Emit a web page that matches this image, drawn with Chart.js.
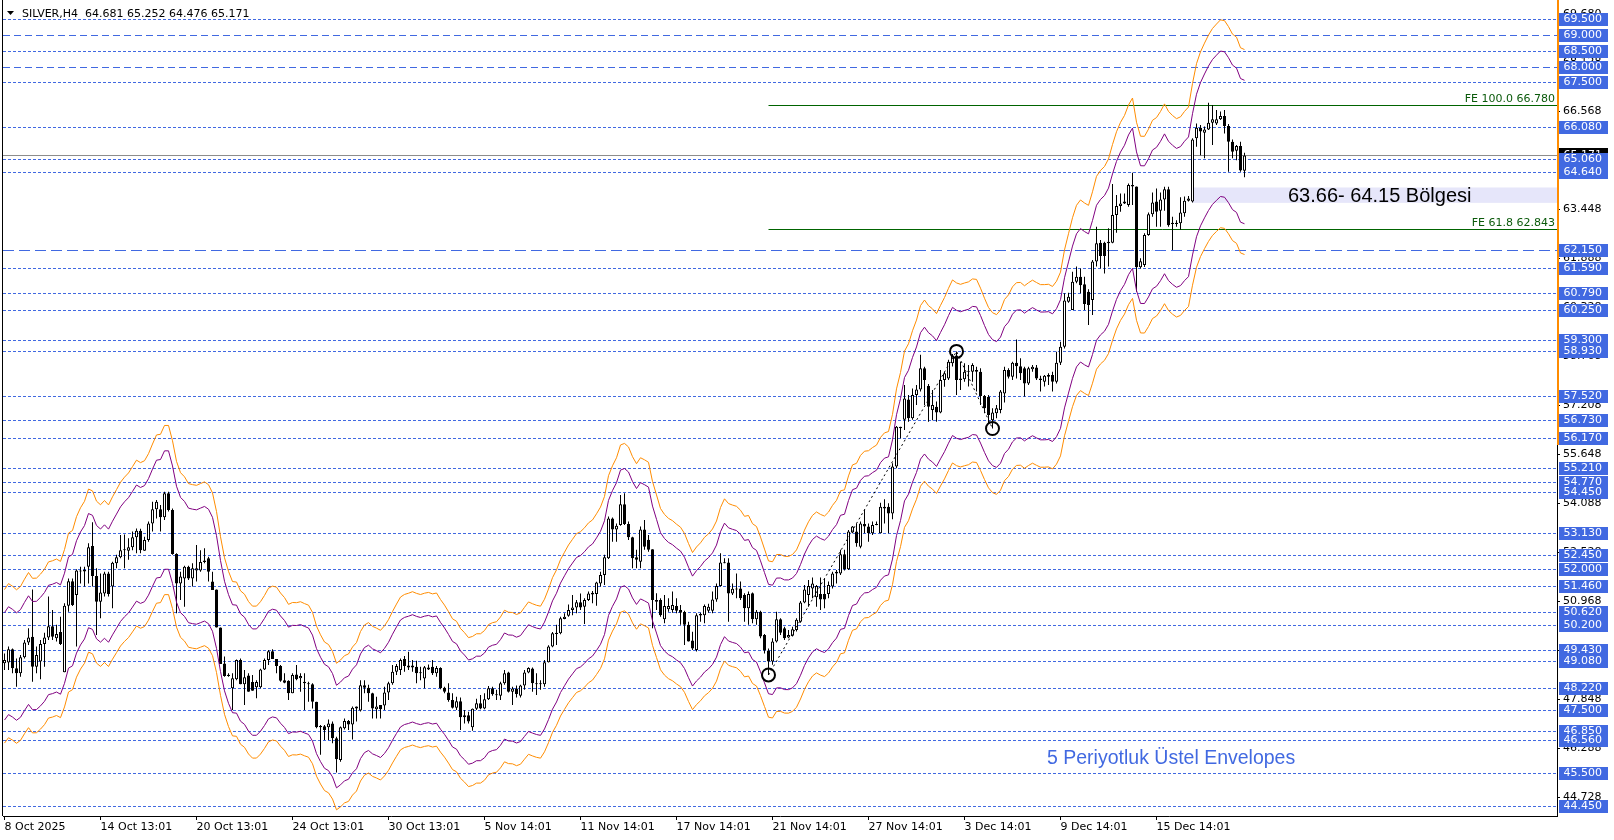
<!DOCTYPE html>
<html>
<head>
<meta charset="utf-8">
<title>SILVER,H4</title>
<script src="https://cdn.jsdelivr.net/npm/chart.js@4.4.1/dist/chart.umd.min.js"></script>
<style>
  html, body { margin: 0; padding: 0; background: #ffffff; }
  #wrap { width: 1614px; height: 840px; }
</style>
</head>
<body>
<div id="wrap"><canvas id="graphic" width="1614" height="840"></canvas></div>
<script>
// SILVER H4 bars, 8 Oct 2025 13:00 -> 18 Dec 2025
const opens = [
  49.00, 49.02, 49.44, 48.84, 48.68, 49.19, 49.66, 49.84, 48.89, 49.05,
  49.61, 49.82, 50.18, 49.79, 49.99, 48.71, 50.83, 51.61, 51.17, 51.95,
  51.92, 52.07, 52.73, 51.78, 50.96, 51.22, 51.86, 51.44, 52.18, 52.37,
  52.60, 52.58, 52.69, 53.01, 53.22, 52.58, 52.92, 53.45, 53.90, 53.90,
  53.65, 54.41, 53.88, 52.48, 51.54, 51.70, 52.07, 51.70, 51.95, 51.95,
  52.22, 52.34, 51.60, 51.35, 50.14, 48.99, 48.59, 48.20, 48.49, 49.10,
  48.33, 48.61, 48.40, 48.23, 48.23, 48.80, 49.10, 49.38, 49.13, 48.91,
  48.46, 48.44, 48.04, 48.64, 48.52, 48.41, 48.36, 48.33, 47.77, 46.96,
  46.99, 46.96, 47.08, 46.61, 45.92, 46.93, 47.16, 47.05, 47.62, 47.49,
  48.30, 48.22, 48.04, 47.53, 47.67, 47.65, 48.07, 48.36, 48.73, 48.78,
  49.13, 48.93, 48.86, 48.89, 48.70, 48.51, 48.80, 48.89, 48.68, 48.85,
  48.22, 48.07, 47.83, 47.58, 47.79, 47.28, 47.34, 46.96, 47.55, 47.72,
  47.56, 47.85, 48.20, 48.01, 47.96, 48.36, 48.70, 48.09, 48.19, 47.96,
  48.29, 48.70, 48.83, 48.36, 48.33, 48.33, 49.03, 49.53, 49.93, 49.95,
  50.41, 50.51, 50.69, 50.77, 50.94, 50.80, 51.01, 51.24, 51.20, 51.54,
  51.81, 52.34, 53.61, 53.26, 53.40, 54.06, 53.43, 53.01, 52.37, 52.23,
  53.26, 52.93, 52.63, 51.01, 51.01, 50.40, 50.72, 50.69, 50.82, 50.69,
  50.63, 50.22, 49.72, 49.42, 50.52, 50.53, 50.67, 50.67, 51.03, 51.46,
  52.21, 52.21, 51.22, 51.38, 51.38, 51.17, 50.75, 51.23, 50.40, 50.64,
  49.90, 49.40, 49.05, 49.69, 50.40, 50.11, 49.82, 49.87, 50.06, 50.32,
  50.93, 51.17, 51.38, 51.10, 51.20, 51.20, 51.20, 51.44, 51.86, 51.86,
  52.47, 51.99, 53.16, 53.19, 52.71, 53.43, 53.35, 53.14, 53.40, 53.14,
  53.98, 53.98, 53.77, 55.26, 56.53, 56.75, 57.40, 56.80, 57.54, 57.72,
  58.39, 57.83, 57.06, 57.17, 56.98, 58.02, 58.07, 58.55, 58.80, 58.02,
  58.04, 58.28, 58.28, 58.34, 58.28, 57.51, 57.48, 56.74, 56.96, 57.06,
  57.59, 58.34, 58.12, 58.57, 58.46, 58.39, 57.91, 58.36, 58.42, 58.07,
  57.96, 58.12, 58.18, 57.96, 58.57, 59.08, 60.51, 60.25, 61.15, 61.31,
  61.07, 60.83, 60.57, 61.79, 62.39, 62.39, 62.37, 62.39, 63.27, 63.56,
  63.64, 63.59, 64.18, 64.18, 61.61, 61.68, 62.64, 63.30, 63.70, 63.41,
  63.77, 64.09, 62.99, 63.03, 63.01, 63.33, 63.73, 63.70, 65.72, 66.05,
  65.89, 66.00, 66.21, 66.19, 66.32, 66.43, 66.11, 65.61, 65.32, 65.47,
  64.681
];
const highs = [
  49.31, 49.53, 49.47, 49.15, 49.26, 49.74, 50.11, 51.35, 49.53, 49.74,
  49.97, 51.12, 50.69, 50.22, 50.48, 50.91, 51.70, 51.70, 51.99, 52.07,
  52.07, 52.82, 53.49, 52.02, 51.86, 51.91, 51.91, 52.23, 52.45, 53.08,
  53.10, 52.98, 53.19, 53.29, 53.28, 53.03, 53.51, 54.14, 54.20, 54.04,
  54.46, 54.46, 53.93, 52.50, 51.91, 52.10, 52.10, 52.18, 52.76, 52.60,
  52.66, 52.39, 51.91, 51.35, 50.14, 49.21, 48.68, 48.68, 49.12, 49.15,
  48.78, 48.68, 48.62, 48.46, 48.82, 49.15, 49.42, 49.44, 49.13, 48.94,
  48.68, 48.46, 48.68, 48.94, 48.68, 48.68, 48.41, 48.36, 47.77, 47.03,
  47.03, 47.21, 47.14, 46.66, 46.98, 47.24, 47.19, 47.62, 47.62, 48.46,
  48.46, 48.31, 48.06, 47.93, 47.67, 48.25, 48.41, 48.94, 48.97, 49.15,
  49.23, 49.36, 49.10, 49.08, 48.89, 48.91, 48.96, 49.10, 48.91, 48.87,
  48.25, 48.36, 48.04, 47.93, 47.91, 47.51, 47.45, 47.56, 47.87, 47.99,
  48.04, 48.27, 48.25, 48.15, 48.41, 48.78, 48.73, 48.25, 48.29, 48.31,
  48.78, 48.87, 48.86, 48.68, 48.46, 49.10, 49.57, 49.99, 50.22, 50.48,
  50.59, 50.87, 51.17, 51.01, 51.22, 51.07, 51.28, 51.30, 51.59, 51.91,
  52.45, 53.67, 53.64, 53.45, 54.36, 54.41, 53.51, 53.03, 52.61, 53.35,
  53.56, 53.08, 52.63, 51.23, 51.07, 51.17, 51.07, 51.28, 51.07, 50.85,
  50.67, 50.32, 50.00, 50.59, 50.61, 50.87, 50.89, 51.28, 51.54, 52.50,
  52.34, 52.34, 51.54, 51.86, 51.60, 51.23, 51.28, 51.25, 50.69, 50.67,
  49.93, 49.47, 49.79, 50.64, 50.43, 50.16, 50.06, 50.16, 50.43, 50.98,
  51.49, 51.65, 51.73, 51.49, 51.73, 51.70, 51.60, 51.91, 51.97, 52.61,
  52.61, 53.24, 53.37, 53.45, 53.51, 53.88, 53.45, 53.51, 53.51, 54.11,
  54.22, 54.09, 55.37, 56.55, 56.53, 57.86, 57.54, 57.75, 57.86, 58.82,
  58.44, 57.89, 57.70, 57.33, 58.34, 58.28, 58.66, 58.85, 58.93, 58.60,
  58.55, 58.50, 58.55, 58.44, 58.39, 57.54, 57.54, 57.12, 57.22, 57.70,
  58.44, 58.39, 58.60, 59.31, 58.71, 58.44, 58.44, 58.50, 58.50, 58.15,
  58.18, 58.23, 58.28, 58.92, 59.24, 60.78, 60.80, 61.47, 61.63, 61.57,
  61.31, 60.91, 61.84, 62.90, 62.48, 62.42, 62.85, 64.26, 63.91, 63.96,
  63.96, 64.28, 64.62, 64.18, 61.90, 62.69, 63.35, 63.99, 64.12, 63.99,
  64.17, 64.17, 63.22, 63.11, 63.84, 63.86, 63.88, 65.72, 66.19, 66.14,
  66.09, 66.85, 66.78, 66.62, 66.57, 66.62, 66.17, 65.68, 65.50, 65.61,
  65.252
];
const lows = [
  48.78, 48.78, 48.68, 48.25, 48.57, 49.15, 49.58, 48.41, 48.68, 48.49,
  48.89, 49.74, 49.74, 49.69, 49.58, 48.71, 50.64, 50.82, 49.53, 51.54,
  51.44, 51.54, 51.44, 49.90, 50.43, 51.12, 51.12, 50.75, 52.02, 52.34,
  52.02, 52.29, 52.60, 52.50, 52.50, 52.58, 52.87, 53.19, 53.61, 53.19,
  53.56, 53.83, 52.45, 50.59, 51.01, 50.80, 51.65, 51.44, 51.60, 51.91,
  52.18, 51.60, 51.33, 50.14, 48.97, 48.57, 48.57, 47.51, 48.46, 48.33,
  47.67, 48.09, 48.12, 47.88, 48.20, 48.78, 48.94, 49.13, 48.68, 48.41,
  48.36, 47.83, 48.04, 48.46, 48.09, 47.51, 47.77, 47.56, 46.93, 46.08,
  46.55, 46.55, 46.45, 45.52, 45.86, 46.89, 46.87, 46.57, 47.14, 47.46,
  48.04, 47.77, 47.24, 47.24, 47.24, 47.51, 47.83, 48.31, 48.62, 48.62,
  48.73, 48.78, 48.73, 48.36, 48.46, 48.20, 48.78, 48.62, 48.57, 48.17,
  48.04, 47.77, 47.56, 47.51, 46.87, 47.08, 47.08, 46.85, 47.51, 47.53,
  47.53, 47.83, 47.96, 47.83, 47.83, 48.31, 48.07, 47.67, 47.91, 47.91,
  48.15, 48.68, 48.09, 47.99, 48.15, 48.25, 49.02, 49.51, 49.58, 49.92,
  50.40, 50.48, 50.53, 50.59, 50.69, 50.25, 50.98, 50.91, 50.83, 51.44,
  51.49, 52.32, 52.87, 52.87, 53.38, 53.40, 52.92, 52.02, 52.02, 52.02,
  52.61, 52.55, 50.11, 50.69, 50.48, 50.27, 50.64, 50.61, 50.59, 50.22,
  49.58, 49.69, 49.42, 49.37, 50.32, 50.27, 50.61, 50.59, 50.96, 51.44,
  52.18, 50.32, 51.17, 51.07, 51.01, 50.32, 50.22, 50.27, 50.22, 49.79,
  49.31, 48.62, 48.95, 49.66, 49.90, 49.74, 49.79, 49.85, 50.01, 50.29,
  50.91, 50.80, 51.07, 50.80, 50.69, 50.75, 51.07, 51.38, 51.54, 51.81,
  51.95, 51.97, 53.14, 52.71, 52.66, 53.14, 52.87, 53.08, 53.39, 53.14,
  53.45, 53.14, 53.58, 55.21, 56.16, 56.43, 56.69, 56.75, 57.22, 57.65,
  57.22, 56.69, 56.74, 56.69, 56.96, 57.80, 58.02, 58.45, 57.54, 57.70,
  57.96, 57.81, 57.96, 57.65, 57.22, 56.96, 56.64, 56.47, 56.80, 56.96,
  57.30, 58.07, 58.02, 58.07, 58.02, 57.49, 57.86, 58.28, 58.02, 57.65,
  57.81, 57.86, 57.65, 57.91, 58.50, 59.02, 60.48, 60.25, 61.10, 60.78,
  60.25, 59.77, 60.09, 61.63, 61.57, 61.41, 61.63, 62.37, 62.71, 63.38,
  63.62, 63.54, 63.59, 60.83, 61.57, 61.62, 62.61, 63.22, 62.90, 62.90,
  63.41, 62.90, 62.16, 62.90, 62.80, 63.22, 63.70, 63.67, 65.45, 65.18,
  65.08, 65.98, 65.50, 66.14, 66.30, 65.87, 64.65, 65.08, 65.02, 64.65,
  64.476
];
const closes = [
  49.10, 49.44, 48.84, 48.68, 49.19, 49.66, 49.82, 48.89, 49.26, 49.61,
  49.82, 50.18, 49.84, 49.93, 49.61, 50.83, 51.61, 50.85, 51.95, 51.92,
  51.97, 52.69, 51.78, 50.96, 51.25, 51.86, 51.20, 52.20, 52.37, 52.60,
  52.62, 52.69, 53.01, 53.22, 52.60, 52.92, 53.45, 53.90, 54.14, 53.65,
  54.41, 53.88, 52.48, 51.54, 51.76, 52.07, 51.70, 52.02, 52.02, 52.22,
  52.27, 51.91, 51.33, 50.14, 48.97, 48.59, 48.63, 48.52, 49.10, 48.33,
  48.55, 48.09, 48.12, 48.40, 48.80, 49.10, 49.38, 49.13, 48.91, 48.44,
  48.38, 48.04, 48.62, 48.49, 48.59, 48.36, 48.33, 47.77, 46.96, 47.00,
  46.87, 47.08, 46.61, 45.94, 46.96, 47.16, 47.05, 47.58, 47.56, 48.30,
  48.22, 48.04, 47.56, 47.62, 47.53, 48.07, 48.36, 48.73, 48.91, 49.10,
  48.91, 48.86, 48.93, 48.68, 48.68, 48.87, 48.86, 48.68, 48.85, 48.20,
  48.09, 47.83, 47.58, 47.79, 47.28, 47.34, 47.14, 47.55, 47.72, 47.56,
  47.85, 48.20, 48.01, 47.98, 48.36, 48.68, 48.09, 48.19, 48.02, 48.29,
  48.70, 48.85, 48.36, 48.33, 48.34, 49.03, 49.53, 49.95, 49.97, 50.43,
  50.48, 50.69, 50.77, 50.94, 50.77, 51.01, 51.22, 51.19, 51.57, 51.81,
  52.37, 53.61, 53.26, 53.38, 54.06, 53.43, 53.01, 52.34, 52.29, 53.26,
  52.71, 52.61, 51.01, 50.96, 50.53, 50.82, 50.82, 50.85, 50.67, 50.61,
  50.22, 49.69, 49.47, 50.53, 50.57, 50.82, 50.80, 51.03, 51.46, 52.21,
  52.18, 51.22, 51.37, 51.35, 51.07, 50.75, 51.20, 50.40, 50.64, 49.85,
  49.40, 49.05, 49.69, 50.40, 49.97, 49.79, 49.90, 50.08, 50.38, 50.93,
  51.35, 51.46, 51.54, 51.46, 51.03, 51.03, 51.49, 51.86, 51.91, 52.47,
  51.99, 53.19, 53.35, 52.82, 53.45, 53.35, 53.14, 53.40, 53.43, 53.98,
  53.93, 53.77, 55.26, 56.53, 56.48, 57.43, 56.80, 57.54, 57.72, 58.39,
  58.02, 57.17, 57.22, 56.98, 58.02, 58.23, 58.60, 58.80, 58.02, 58.07,
  58.28, 58.30, 58.50, 58.28, 57.51, 57.12, 56.90, 56.98, 57.12, 57.65,
  58.34, 58.12, 58.57, 58.46, 58.23, 57.91, 58.39, 58.44, 58.07, 58.02,
  58.15, 58.18, 57.96, 58.57, 59.08, 60.55, 60.67, 61.15, 61.31, 61.04,
  60.44, 60.41, 61.79, 62.37, 61.97, 61.97, 62.42, 63.27, 63.56, 63.64,
  63.70, 64.23, 64.23, 61.61, 61.80, 62.64, 63.30, 63.67, 63.38, 63.77,
  64.09, 62.95, 63.03, 62.99, 63.35, 63.73, 63.80, 65.68, 66.05, 65.93,
  66.00, 66.21, 66.32, 66.32, 66.43, 66.11, 65.61, 65.29, 65.47, 64.69,
  65.171
];

// indicator: 5 period exponential envelopes
const emaPeriod = 5;
const emaStart = 48.8;
const envPercents = [3.5, 5.0];

// axes
const xTickIdx = [0, 24, 48, 72, 96, 120, 144, 168, 192, 216, 240, 264, 288];
const xTickLabels = ['8 Oct 2025', '14 Oct 13:01', '20 Oct 13:01', '24 Oct 13:01', '30 Oct 13:01',
  '5 Nov 14:01', '11 Nov 14:01', '17 Nov 14:01', '21 Nov 14:01', '27 Nov 14:01',
  '3 Dec 14:01', '9 Dec 14:01', '15 Dec 14:01'];
const yTickVals = [69.680, 68.128, 66.568, 65.008, 63.448, 61.888, 60.328, 58.768, 57.208,
  55.648, 54.088, 52.528, 50.968, 49.408, 47.848, 46.288, 44.728];

// horizontal levels drawn on the chart
const levels = [69.500, 69.000, 68.500, 68.000, 67.500, 66.080, 65.060, 64.640, 62.150, 61.590,
  60.790, 60.250, 59.300, 58.930, 57.520, 56.730, 56.170, 55.210, 54.770, 54.450, 53.130,
  52.450, 52.000, 51.460, 50.620, 50.200, 49.430, 49.080, 48.220, 47.500, 46.850, 46.560,
  45.500, 44.450];
const dashedLevels = [69.000, 68.000];
const longDashLevels = [62.150];

// fibo expansion points (bar index, price) and levels
const fePointIdx = [191, 238, 247];
const fePointPrice = [48.624, 58.930, 56.474];
const feRatios = ['100.0', '61.8'];
const feValues = [66.780, 62.843];

// zone box
const zoneStart = 297;
const zoneLow = 63.66;
const zoneHigh = 64.15;
const zoneText = '63.66- 64.15 Bölgesi';
const noteText = '5 Periyotluk Üstel Envelopes';

const symbolTitle = 'SILVER,H4';

const last = closes.length - 1;
const bid = closes[last];

const mtFont = '11px "DejaVu Sans"';
const blue = '#4169e1';

var ema = [];
var e = emaStart;
closes.forEach(function (c) {
  e = e + (c - e) * 2 / (emaPeriod + 1);
  ema.push(e);
});
function envelope(pct, sign) {
  return ema.map(function (v, i) { return { x: i, y: v * (1 + sign * pct / 100) }; });
}

var wicks = lows.map(function (l, i) { return { x: i, y: [l, highs[i]] }; });
var bodies = opens.map(function (o, i) { return { x: i, y: [o, closes[i]] }; });
var bodyColors = opens.map(function (o, i) { return closes[i] >= o ? '#ffffff' : '#000000'; });

function lineDs(data, color) {
  return {
    type: 'line', data: data, borderColor: color, borderWidth: 1,
    pointRadius: 0, tension: 0, order: 0
  };
}

function hline(ctx, a, py, x0) {
  ctx.beginPath();
  ctx.moveTo(x0, py);
  ctx.lineTo(a.right, py);
  ctx.stroke();
}

const overlay = {
  id: 'overlay',
  beforeDatasetsDraw(chart) {
    const { ctx, chartArea: a, scales: { x, y } } = chart;
    ctx.save();
    ctx.beginPath();
    ctx.rect(a.left, a.top, a.right - a.left, a.bottom - a.top);
    ctx.clip();

    // zone
    var zx = x.getPixelForValue(zoneStart) - 0.5;
    var zt = y.getPixelForValue(zoneHigh);
    var zb = y.getPixelForValue(zoneLow);
    ctx.fillStyle = '#e6e6fa';
    ctx.fillRect(zx, zt, a.right - zx, zb - zt);

    // levels
    ctx.lineWidth = 1;
    ctx.strokeStyle = blue;
    levels.forEach(function (v) {
      var py = Math.round(y.getPixelForValue(v)) + 0.5;
      if (longDashLevels.indexOf(v) >= 0) ctx.setLineDash([11, 5]);
      else if (dashedLevels.indexOf(v) >= 0) ctx.setLineDash([7, 4]);
      else ctx.setLineDash([3, 2]);
      hline(ctx, a, py, a.left);
    });
    ctx.setLineDash([]);

    // bid line
    ctx.strokeStyle = '#8c8c8c';
    hline(ctx, a, Math.round(y.getPixelForValue(bid)) + 0.5, a.left);

    // fibo expansion levels
    ctx.strokeStyle = '#006400';
    var fx = x.getPixelForValue(fePointIdx[0]);
    feValues.forEach(function (v) {
      hline(ctx, a, Math.round(y.getPixelForValue(v)) + 0.5, fx);
    });
    ctx.restore();
  },
  afterDatasetsDraw(chart) {
    const { ctx, chartArea: a, scales: { x, y } } = chart;
    ctx.save();
    ctx.beginPath();
    ctx.rect(a.left, a.top, a.right - a.left, a.bottom - a.top);
    ctx.clip();

    // fibo labels
    ctx.font = mtFont;
    ctx.fillStyle = '#0b5a0b';
    ctx.textAlign = 'right';
    ctx.textBaseline = 'alphabetic';
    feValues.forEach(function (v, k) {
      var py = Math.round(y.getPixelForValue(v));
      ctx.fillText('FE ' + feRatios[k] + ' ' + v.toFixed(3), a.right - 2, py - 3);
    });

    // fibo base lines and point circles
    var pts = fePointIdx.map(function (i, k) {
      return [x.getPixelForValue(i), y.getPixelForValue(fePointPrice[k])];
    });
    ctx.strokeStyle = '#000000';
    ctx.lineWidth = 1;
    ctx.setLineDash([2, 3]);
    ctx.beginPath();
    ctx.moveTo(pts[0][0], pts[0][1]);
    ctx.lineTo(pts[1][0], pts[1][1]);
    ctx.lineTo(pts[2][0], pts[2][1]);
    ctx.stroke();
    ctx.setLineDash([]);
    ctx.lineWidth = 2;
    pts.forEach(function (p) {
      ctx.beginPath();
      ctx.arc(p[0], p[1], 6.5, 0, Math.PI * 2);
      ctx.stroke();
    });

    // texts
    var zt = y.getPixelForValue(zoneHigh);
    var zb = y.getPixelForValue(zoneLow);
    ctx.textAlign = 'left';
    ctx.fillStyle = '#000000';
    ctx.font = '20px "Liberation Sans", Arial, sans-serif';
    ctx.fillText(zoneText, 1288, Math.round((zt + zb) / 2) + 7);
    ctx.fillStyle = blue;
    ctx.font = '19.5px "Liberation Sans", Arial, sans-serif';
    ctx.fillText(noteText, 1047, 764);
    ctx.restore();
  },
  afterDraw(chart) {
    const { ctx, chartArea: a, scales: { y } } = chart;
    ctx.save();
    // left frame
    ctx.strokeStyle = '#000000';
    ctx.lineWidth = 1;
    ctx.beginPath();
    ctx.moveTo(2.5, 0);
    ctx.lineTo(2.5, a.bottom);
    ctx.stroke();

    // orange marker on price scale
    ctx.strokeStyle = '#ff8c00';
    ctx.lineWidth = 2;
    ctx.beginPath();
    ctx.moveTo(a.right + 1, 0);
    ctx.lineTo(a.right + 1, 445);
    ctx.stroke();

    ctx.font = mtFont;
    ctx.textAlign = 'left';
    ctx.textBaseline = 'middle';

    // bid label
    var by = Math.round(y.getPixelForValue(bid));
    ctx.fillStyle = '#000000';
    ctx.fillRect(a.right + 2, by - 7, 49, 13);
    ctx.fillStyle = '#ffffff';
    ctx.fillText(bid.toFixed(3), a.right + 6.5, by);

    // level labels
    levels.forEach(function (v) {
      var py = Math.round(y.getPixelForValue(v));
      ctx.fillStyle = blue;
      ctx.fillRect(a.right + 2, py - 6, 49, 13);
      ctx.fillStyle = '#ffffff';
      ctx.fillText(v.toFixed(3), a.right + 6.5, py + 0.5);
    });

    // title
    ctx.fillStyle = '#000000';
    ctx.beginPath();
    ctx.moveTo(7, 11);
    ctx.lineTo(14, 11);
    ctx.lineTo(10.5, 15);
    ctx.closePath();
    ctx.fill();
    var t = symbolTitle + '  ' + opens[last].toFixed(3) + ' ' + highs[last].toFixed(3) + ' ' +
      lows[last].toFixed(3) + ' ' + closes[last].toFixed(3);
    ctx.fillText(t, 22, 14);
    ctx.restore();
  }
};

let graphic = document.getElementById('graphic').getContext('2d');

var chart = new Chart(graphic, {
  type: 'bar',
  data: {
    datasets: [
      lineDs(envelope(envPercents[0], 1), '#800080'),
      lineDs(envelope(envPercents[0], -1), '#800080'),
      lineDs(envelope(envPercents[1], 1), '#ff8c00'),
      lineDs(envelope(envPercents[1], -1), '#ff8c00'),
      {
        type: 'bar', data: bodies, backgroundColor: bodyColors, borderColor: '#000000',
        borderWidth: 1, borderSkipped: false, barThickness: 3, minBarLength: 1,
        grouped: false, inflateAmount: 0, order: 1
      },
      {
        type: 'bar', data: wicks, backgroundColor: '#000000', borderWidth: 0,
        barThickness: 1, grouped: false, inflateAmount: 0, order: 2
      }
    ]
  },
  options: {
    responsive: false,
    animation: false,
    devicePixelRatio: 1,
    events: [],
    layout: { padding: { left: 3, top: 2, right: 0, bottom: 0 } },
    plugins: { legend: { display: false }, tooltip: { enabled: false } },
    scales: {
      x: {
        type: 'linear', min: -0.375, max: 388.125, offset: false, bounds: 'data',
        afterBuildTicks: function (s) { s.ticks = xTickIdx.map(function (v) { return { value: v }; }); },
        afterFit: function (s) { s.height = 24; s.paddingLeft = 0; s.paddingRight = 0; },
        ticks: {
          autoSkip: false, maxRotation: 0, minRotation: 0, align: 'start', padding: 1,
          color: '#000000', font: { family: 'DejaVu Sans', size: 11 },
          callback: function (v, i) { return xTickLabels[i]; }
        },
        grid: { drawOnChartArea: false, tickLength: 4, color: '#000000', offset: false },
        border: { color: '#000000' }
      },
      y: {
        position: 'right', min: 44.133, max: 70.057, bounds: 'data',
        afterBuildTicks: function (s) { s.ticks = yTickVals.map(function (v) { return { value: v }; }); },
        afterFit: function (s) { s.width = 57; s.paddingTop = 0; s.paddingBottom = 0; },
        ticks: {
          padding: 3, color: '#000000', font: { family: 'DejaVu Sans', size: 11 },
          callback: function (v) { return v.toFixed(3); }
        },
        grid: { drawOnChartArea: false, tickLength: 3, color: '#000000' },
        border: { color: '#000000' }
      }
    }
  },
  plugins: [overlay]
});
</script>
</body>
</html>
